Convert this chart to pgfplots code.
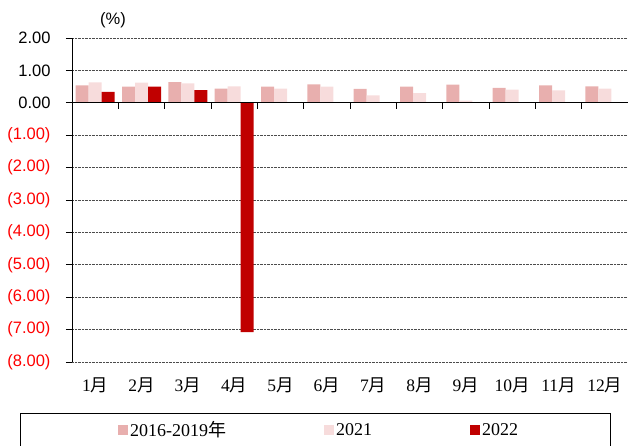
\documentclass[border=0pt]{standalone}
\usepackage{fontspec}
\setmainfont{Liberation Serif}
\setsansfont{Liberation Sans}
\newfontfamily\cjk{Noto Sans CJK SC}
\usepackage{pgfplots}
\pgfplotsset{compat=1.18}
\definecolor{cA}{HTML}{E8AFAE}
\definecolor{cB}{HTML}{F7DCDC}
\definecolor{cC}{HTML}{C00000}
\newcommand\yue{{\cjk 月}}
\begin{document}
\begin{tikzpicture}[x=1pt,y=1pt]
\useasboundingbox (-72,-83) rectangle (556,362);
\begin{axis}[
  at={(0,0)}, anchor=south west,
  scale only axis, width=556pt, height=324pt,
  ybar=0pt, bar width=13pt,
  xmin=-0.5, xmax=11.5, ymin=-8, ymax=2,
  axis x line*=bottom,
  x axis line style={draw=none},
  axis y line*=left,
  y axis line style={black, line width=0.8pt, -},
  ytick={-8,-7,...,2},
  yticklabels={{\color{red}(8.00)},{\color{red}(7.00)},{\color{red}(6.00)},{\color{red}(5.00)},{\color{red}(4.00)},{\color{red}(3.00)},{\color{red}(2.00)},{\color{red}(1.00)},0.00,1.00,2.00},
  yticklabel style={font=\sffamily\fontsize{16.5}{18}\selectfont, xshift=-12pt},
  tick align=outside, major tick length=6pt,
  ytick style={black, line width=0.8pt},
  ymajorgrids, grid style={densely dotted, black!70, line width=0.9pt},
  xtick={0,...,11},
  xtick style={draw=none},
  xticklabels={1\yue,2\yue,3\yue,4\yue,5\yue,6\yue,7\yue,8\yue,9\yue,10\yue,11\yue,12\yue},
  xticklabel style={font=\fontsize{17.5}{18}\selectfont, yshift=-6pt},
  legend columns=3,
  legend style={draw=none, fill=none, inner sep=0pt, at={(axis description cs:0.0827,-0.21)}, anchor=west, font=\fontsize{18}{20}\selectfont,
    /tikz/every even column/.append style={column sep=96pt}},
  legend image code/.code={\fill[#1] (0pt,-5pt) rectangle (10pt,5pt);},
  clip=false,
]
\addplot[fill=cA, draw=none] coordinates {(0,0.54) (1,0.50) (2,0.64) (3,0.44) (4,0.50) (5,0.57) (6,0.43) (7,0.50) (8,0.56) (9,0.46) (10,0.54) (11,0.51)};
\addplot[fill=cB, draw=none] coordinates {(0,0.63) (1,0.62) (2,0.60) (3,0.51) (4,0.44) (5,0.50) (6,0.23) (7,0.30) (8,0.07) (9,0.41) (10,0.38) (11,0.44)};
\addplot[fill=cC, draw=none] coordinates {(0,0.34) (1,0.50) (2,0.39) (3,-7.08)};
\legend{2016-2019{\cjk 年},2021,2022}
\draw[black, line width=0.8pt] (axis cs:-0.5,0) -- (axis cs:11.5,0);
\pgfplotsinvokeforeach{0.5,1.5,2.5,3.5,4.5,5.5,6.5,7.5,8.5,9.5,10.5,11.5}{
  \draw[black, line width=0.8pt] (axis cs:#1,0) -- ([yshift=-6pt]axis cs:#1,0);
}
\end{axis}
\node[font=\sffamily\fontsize{16.5}{18}\selectfont] at (41,342) {(\%)};
\draw[black, line width=0.8pt] (-52,-51) rectangle (538,-95);
\end{tikzpicture}
\end{document}
